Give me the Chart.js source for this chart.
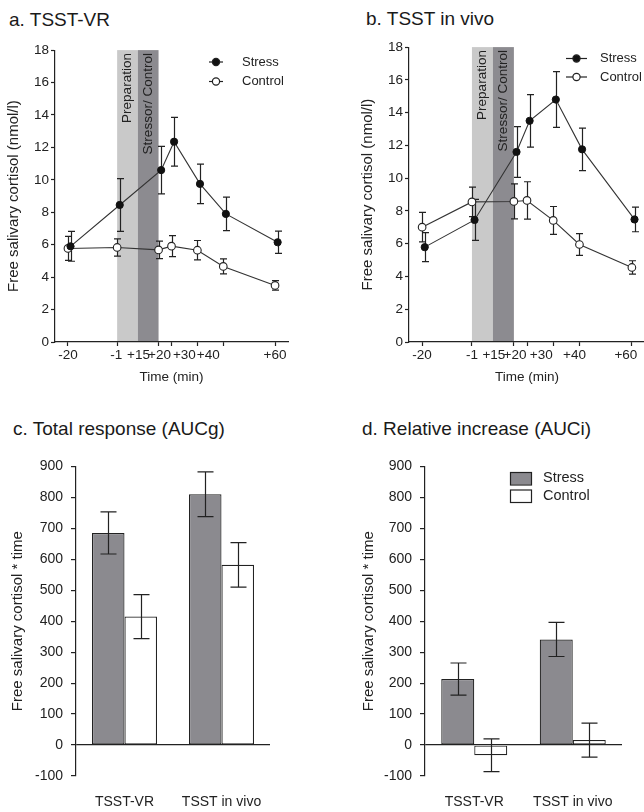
<!DOCTYPE html>
<html>
<head>
<meta charset="utf-8">
<script src="https://cdn.jsdelivr.net/npm/chart.js@4.4.1/dist/chart.umd.min.js"></script>
<style>
  html, body { margin: 0; padding: 0; width: 644px; height: 812px; overflow: hidden; background: #fff; }
  canvas { position: absolute; }
  .ttl { position: absolute; font: 19px "Liberation Sans", Arial, sans-serif; color: #1a1a1a; line-height: 19px; white-space: nowrap; }
</style>
</head>
<body>
<div class="ttl" style="left:9px; top:10px;">a. TSST-VR</div>
<div class="ttl" style="left:366px; top:9px;">b. TSST in vivo</div>
<div class="ttl" style="left:13px; top:419px;">c. Total response (AUCg)</div>
<div class="ttl" style="left:362px; top:419px;">d. Relative increase (AUCi)</div>

<canvas id="vr" width="300" height="350" style="left:0px; top:40px;"></canvas>
<canvas id="vivo" width="300" height="353" style="left:354px; top:37px;"></canvas>
<canvas id="aucg" width="280" height="362" style="left:0px; top:450px;"></canvas>
<canvas id="auci" width="280" height="362" style="left:352px; top:450px;"></canvas>

<script>
// sampling times (min) and their labels
var times = [-20, -1, 15, 20, 30, 40, 60];
var timeLabels = ['-20', '-1', '+15', '+20', '+30', '+40', '+60'];

// TSST-VR, cortisol (nmol/l) and SEM
var vrStress = [5.9, 8.45, 10.6, 12.35, 9.75, 7.9, 6.15];
var vrStressErr = [0.92, 1.63, 1.46, 1.5, 1.22, 1.03, 0.69];
var vrControl = [5.77, 5.83, 5.68, 5.91, 5.66, 4.66, 3.49];
var vrControlErr = [0.74, 0.53, 0.54, 0.65, 0.6, 0.46, 0.29];

// TSST in vivo
var vivoStress = [5.79, 7.45, 11.6, 13.5, 14.8, 11.76, 7.48];
var vivoStressErr = [0.88, 1.25, 1.55, 1.6, 1.7, 1.3, 0.75];
var vivoControl = [7.01, 8.55, 8.58, 8.64, 7.42, 5.95, 4.55];
var vivoControlErr = [0.9, 0.9, 1.07, 1.14, 0.85, 0.66, 0.41];

// phases (min)
var phaseNames = ['Preparation', 'Stressor/ Control'];
var phaseStart = [-1, 7];
var phaseEnd = [7, 15];

// area under the curve
var groups = ['TSST-VR', 'TSST in vivo'];
var aucgStress = [685, 810];
var aucgStressErr = [68, 72];
var aucgControl = [415, 582];
var aucgControlErr = [71, 72];
var auciStress = [213, 341];
var auciStressErr = [52, 55];
var auciControl = [-33, 16];
var auciControlErr = [53, 55];

var FONT = '"Liberation Sans", Arial, sans-serif';
var INK = '#222';
var STRESS_GREY = '#8b8a8f';
Chart.defaults.font.family = FONT;
Chart.defaults.color = INK;

var stressShift = 1; // stress markers drawn slightly right of control

function points(vals, shift) {
  return vals.map(function (v, i) { return { x: times[i] + shift, y: v }; });
}

var errorBars = {
  id: 'errorBars',
  beforeDatasetsDraw: function (chart, args, opts) { if (opts.under) drawErrors(chart, opts); },
  afterDatasetsDraw: function (chart, args, opts) { if (!opts.under) drawErrors(chart, opts); }
};

function drawErrors(chart, opts) {
  if (!opts.errors) return;
  var ctx = chart.ctx;
  var ys = chart.scales.y;
  ctx.save();
  ctx.strokeStyle = INK;
  ctx.lineWidth = 1.2;
  chart.data.datasets.forEach(function (ds, i) {
    var meta = chart.getDatasetMeta(i);
    meta.data.forEach(function (el, j) {
      var d = ds.data[j];
      var v = typeof d === 'object' ? d.y : d;
      var e = opts.errors[i][j];
      var x = Math.round(el.x) + 0.5;
      var yt = ys.getPixelForValue(v + e);
      var yb = ys.getPixelForValue(v - e);
      ctx.beginPath();
      ctx.moveTo(x, yt); ctx.lineTo(x, yb);
      ctx.moveTo(x - opts.cap, yt); ctx.lineTo(x + opts.cap, yt);
      ctx.moveTo(x - opts.cap, yb); ctx.lineTo(x + opts.cap, yb);
      ctx.stroke();
    });
  });
  ctx.restore();
}

// shaded phases go under the axes, error bars and lines
var phaseBands = {
  id: 'phaseBands',
  beforeDraw: function (chart, args, opts) {
    if (!opts.names) return;
    var ctx = chart.ctx, xs = chart.scales.x, a = chart.chartArea;
    var fills = ['#c9c9c9', '#8c8b90'];
    ctx.save();
    opts.names.forEach(function (name, i) {
      var x0 = xs.getPixelForValue(opts.start[i]);
      var x1 = xs.getPixelForValue(opts.end[i]);
      ctx.fillStyle = fills[i];
      ctx.fillRect(x0, a.top, x1 - x0, a.bottom - a.top);
      ctx.save();
      ctx.translate((x0 + x1) / 2, a.top + 3);
      ctx.rotate(-Math.PI / 2);
      ctx.fillStyle = INK;
      ctx.font = '13.5px ' + FONT;
      ctx.textAlign = 'right';
      ctx.textBaseline = 'middle';
      ctx.fillText(name, 0, 0);
      ctx.restore();
    });
    ctx.restore();
  }
};

var timeTicks = {
  id: 'timeTicks',
  afterDraw: function (chart, args, opts) {
    if (!opts.labels) return;
    var ctx = chart.ctx, xs = chart.scales.x, a = chart.chartArea;
    ctx.save();
    ctx.fillStyle = INK;
    ctx.font = '13.5px ' + FONT;
    ctx.textAlign = 'center';
    ctx.textBaseline = 'middle';
    times.forEach(function (t, i) {
      ctx.fillText(opts.labels[i], xs.getPixelForValue(t) + opts.dx[i], a.bottom + 13);
    });
    ctx.restore();
  }
};

var keyBox = {
  id: 'keyBox',
  afterDraw: function (chart, args, opts) {
    if (!opts.x) return;
    var ctx = chart.ctx;
    ctx.save();
    ctx.font = opts.size + 'px ' + FONT;
    ctx.textBaseline = 'middle';
    chart.data.datasets.forEach(function (ds, i) {
      var y = opts.y + i * opts.dy;
      ctx.strokeStyle = INK;
      ctx.lineWidth = 1.2;
      if (opts.kind === 'line') {
        ctx.beginPath();
        ctx.moveTo(opts.x, y); ctx.lineTo(opts.x + opts.w, y);
        ctx.stroke();
        ctx.beginPath();
        ctx.arc(opts.x + opts.w / 2, y, 3.6, 0, Math.PI * 2);
        ctx.fillStyle = ds.pointBackgroundColor;
        ctx.fill();
        ctx.stroke();
      } else {
        ctx.fillStyle = ds.backgroundColor;
        ctx.fillRect(opts.x, y - 6, opts.w, 12.5);
        ctx.strokeRect(opts.x + 0.5, y - 6 + 0.5, opts.w, 12.5);
      }
      ctx.fillStyle = INK;
      ctx.fillText(ds.label, opts.tx, y);
    });
    ctx.restore();
  }
};

Chart.register(phaseBands, errorBars, timeTicks, keyBox);

function lineChart(id, stress, stressErr, control, controlErr, dx, key, yW, right) {
  return new Chart(document.getElementById(id), {
    type: 'line',
    data: {
      datasets: [{
        label: 'Stress',
        data: points(stress, stressShift),
        borderColor: '#333',
        borderWidth: 1.1,
        pointRadius: 3.6,
        pointBackgroundColor: '#111',
        pointBorderColor: '#111',
        pointBorderWidth: 1,
        clip: false
      }, {
        label: 'Control',
        data: points(control, 0),
        borderColor: '#333',
        borderWidth: 1.1,
        pointRadius: 3.8,
        pointBackgroundColor: '#fff',
        pointBorderColor: '#222',
        pointBorderWidth: 1.1,
        clip: false
      }]
    },
    options: {
      responsive: false,
      animation: false,
      events: [],
      layout: { autoPadding: false, padding: { top: 10, right: right, bottom: 0, left: 0 } },
      plugins: {
        legend: { display: false },
        tooltip: { enabled: false },
        errorBars: { errors: [stressErr, controlErr], cap: 3.5, under: true },
        phaseBands: { names: phaseNames, start: phaseStart, end: phaseEnd },
        timeTicks: { labels: timeLabels, dx: dx },
        keyBox: key
      },
      scales: {
        x: {
          type: 'linear',
          min: -25,
          max: 65,
          afterBuildTicks: function (s) { s.ticks = times.map(function (t) { return { value: t }; }); },
          afterFit: function (s) { s.height = 48; },
          ticks: { autoSkip: false, callback: function () { return ''; }, padding: 0 },
          grid: { drawOnChartArea: false, tickLength: 4, tickColor: INK, tickWidth: 1.2 },
          border: { color: INK, width: 1.2 },
          title: { display: true, text: 'Time (min)', font: { size: 13.5 }, padding: { top: 0, bottom: 5 } }
        },
        y: {
          min: 0,
          max: 18,
          afterFit: function (s) { s.width = yW; },
          ticks: { stepSize: 2, font: { size: 13.5 }, padding: 2 },
          grid: { drawOnChartArea: false, tickLength: 4, tickColor: INK, tickWidth: 1.2 },
          border: { color: INK, width: 1.2 },
          title: { display: true, text: 'Free salivary cortisol (nmol/l)', font: { size: 15 }, padding: { top: 5, bottom: 0 } }
        }
      }
    }
  });
}

lineChart('vr', vrStress, vrStressErr, vrControl, vrControlErr,
  [0, -1, -20, -12, -13, -15, 0],
  { kind: 'line', x: 209, w: 14, y: 22, dy: 19.5, tx: 242, size: 13 }, 55, 12);

lineChart('vivo', vivoStress, vivoStressErr, vivoControl, vivoControlErr,
  [0, 0, -20, -12, -12, -5, -6],
  { kind: 'line', x: 566 - 354, w: 21, y: 21.5, dy: 18.5, tx: 600 - 354, size: 13 }, 55, 9);

function barChart(id, stress, stressErr, control, controlErr, key, yW, titlePad) {
  return new Chart(document.getElementById(id), {
    type: 'bar',
    data: {
      labels: groups,
      datasets: [{
        label: 'Stress',
        data: stress,
        backgroundColor: STRESS_GREY,
        borderColor: INK,
        borderWidth: 1.2,
        borderSkipped: false,
        categoryPercentage: 0.67,
        barPercentage: 1.0
      }, {
        label: 'Control',
        data: control,
        backgroundColor: '#fff',
        borderColor: INK,
        borderWidth: 1.2,
        borderSkipped: false,
        categoryPercentage: 0.67,
        barPercentage: 1.0
      }]
    },
    options: {
      responsive: false,
      animation: false,
      events: [],
      layout: { autoPadding: false, padding: { top: 14, right: 10, bottom: 0, left: 0 } },
      plugins: {
        legend: { display: false },
        tooltip: { enabled: false },
        errorBars: { errors: [stressErr, controlErr], cap: 8, under: false },
        keyBox: key
      },
      scales: {
        x: {
          afterFit: function (s) { s.height = 36; },
          ticks: { font: { size: 14 }, padding: 10 },
          grid: { display: false },
          border: { display: false }
        },
        y: {
          min: -100,
          max: 900,
          afterFit: function (s) { s.width = yW; },
          ticks: {
            stepSize: 50,
            font: { size: 14 },
            padding: 8,
            callback: function (v) { return v % 100 === 0 ? v : ''; }
          },
          grid: {
            drawOnChartArea: true,
            color: function (c) { return c.tick && c.tick.value === 0 ? INK : 'rgba(0,0,0,0)'; },
            lineWidth: 1.2,
            tickLength: 5,
            tickColor: INK,
            tickWidth: 1.2
          },
          border: { color: INK, width: 1.2 },
          title: { display: true, text: 'Free salivary cortisol * time', font: { size: 15 }, padding: { top: titlePad, bottom: 0 } }
        }
      }
    }
  });
}

barChart('aucg', aucgStress, aucgStressErr, aucgControl, aucgControlErr, {}, 76, 9);
barChart('auci', auciStress, auciStressErr, auciControl, auciControlErr,
  { kind: 'box', x: 510 - 352, w: 21, y: 28, dy: 17.5, tx: 543 - 352, size: 14.5 }, 73, 8);
</script>
</body>
</html>
